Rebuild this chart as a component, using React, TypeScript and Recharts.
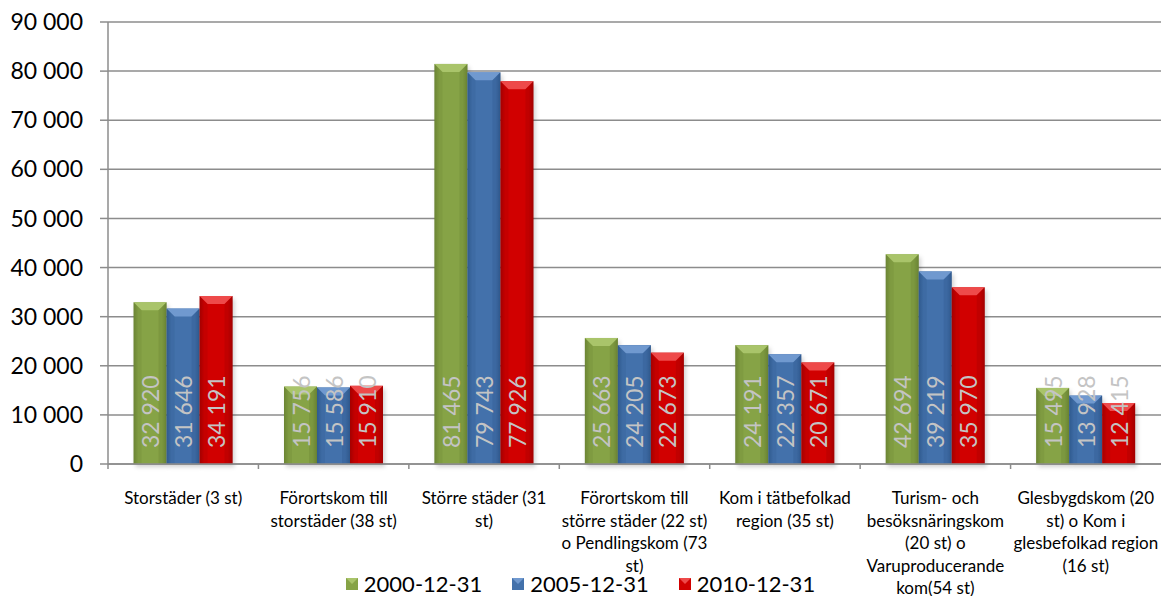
import React from 'react';
import { BarChart, Bar, XAxis, YAxis, CartesianGrid, Legend, LabelList } from 'recharts';

const categories = [
  'Storstäder (3 st)',
  'Förortskom till\nstorstäder (38 st)',
  'Större städer (31\nst)',
  'Förortskom till\nstörre städer (22 st)\no Pendlingskom (73\nst)',
  'Kom i tätbefolkad\nregion (35 st)',
  'Turism- och\nbesöksnäringskom\n(20 st) o\nVaruproducerande\nkom(54 st)',
  'Glesbygdskom (20\nst) o Kom i\nglesbefolkad region\n(16 st)',
];
const values2000 = [32920, 15756, 81465, 25663, 24191, 42694, 15495];
const values2005 = [31646, 15586, 79743, 24205, 22357, 39219, 13928];
const values2010 = [34191, 15910, 77926, 22673, 20671, 35970, 12415];
const seriesNames = ['2000-12-31', '2005-12-31', '2010-12-31'];
const yTicks = [0, 10000, 20000, 30000, 40000, 50000, 60000, 70000, 80000, 90000];

const data = categories.map((name, i) => ({
  name,
  s2000: values2000[i],
  s2005: values2005[i],
  s2010: values2010[i],
}));

const palette = [
  { key: 's2000', base: '#86a346', light: '#a9c46a', dark: '#6b8534' },
  { key: 's2005', base: '#4371ab', light: '#7099cf', dark: '#305a8e' },
  { key: 's2010', base: '#d10000', light: '#ee4a4a', dark: '#a40000' },
];

const FONT = 'Lato, "Open Sans", sans-serif';

const fmt = (n: number) => String(n).replace(/\B(?=(\d{3})+(?!\d))/g, ' ');

const makeShape = (idx: number) => (props: any) => {
  const { x, y, width, height } = props;
  const c = palette[idx];
  const b = Math.min(8, width / 2, height / 2);
  return (
    <g>
      <rect x={x + 2} y={y + 3} width={width} height={height} fill="rgba(0,0,0,0.18)" filter="url(#barShadow)" />
      <rect x={x} y={y} width={width} height={height} fill={`url(#grad-${c.key})`} />
      <polygon
        points={`${x},${y} ${x + width},${y} ${x + width - b},${y + b} ${x + b},${y + b}`}
        fill={c.light}
      />
      <polygon points={`${x},${y} ${x + b},${y + b} ${x + b},${y + height} ${x},${y + height}`} fill={c.dark} opacity={0.25} />
      <polygon
        points={`${x + width},${y} ${x + width - b},${y + b} ${x + width - b},${y + height} ${x + width},${y + height}`}
        fill={c.dark}
        opacity={0.35}
      />
    </g>
  );
};

const ValueLabel = (props: any) => {
  const { x, y, width, height, value } = props;
  const cx = x + width / 2;
  const by = y + height - 16;
  return (
    <text
      x={cx}
      y={by}
      transform={`rotate(-90 ${cx} ${by})`}
      textAnchor="start"
      dominantBaseline="central"
      fill="#c4c4c4"
      fontSize={23}
      fontFamily={FONT}
    >
      {fmt(value)}
    </text>
  );
};

const CategoryTick = (props: any) => {
  const { x, y, payload } = props;
  const half = payload.offset || 0;
  const lines = String(payload.value).split('\n');
  return (
    <g>
      <line x1={x - half} y1={y} x2={x - half} y2={y + 5} stroke="#8c8c8c" strokeWidth={1.5} />
      <text x={x} y={y + 40} textAnchor="middle" fontSize={17} fontFamily={FONT} fill="#000">
        {lines.map((l, i) => (
          <tspan key={i} x={x} dy={i === 0 ? 0 : 22.5}>
            {l}
          </tspan>
        ))}
      </text>
    </g>
  );
};

const LegendContent = () => (
  <div style={{ display: 'flex', justifyContent: 'center', fontFamily: FONT, fontSize: 22, lineHeight: '26px' }}>
    {seriesNames.map((n, i) => (
      <span key={n} style={{ display: 'flex', alignItems: 'center', marginRight: i < 2 ? 30 : 0 }}>
        <svg width={12} height={12} style={{ marginRight: 6 }}>
          <rect x={0} y={0} width={12} height={12} fill={palette[i].base} />
          <polygon points="0,0 12,0 6,6" fill={palette[i].light} />
        </svg>
        <span>{n}</span>
      </span>
    ))}
  </div>
);

export default function App() {
  return (
    <div style={{ position: 'absolute', left: 0, top: 0, width: 1161, height: 596, background: '#fff' }}>
      <BarChart
        width={1161}
        height={596}
        data={data}
        margin={{ top: 22, right: 0, left: 0, bottom: 0 }}
        barCategoryGap="17%"
        barGap={0}
      >
        <defs>
          {palette.map((c) => (
            <linearGradient key={c.key} id={`grad-${c.key}`} x1="0" y1="0" x2="1" y2="0">
              <stop offset="0%" stopColor={c.dark} />
              <stop offset="15%" stopColor={c.base} />
              <stop offset="85%" stopColor={c.base} />
              <stop offset="100%" stopColor={c.dark} />
            </linearGradient>
          ))}
          <filter id="barShadow" x="-20%" y="-20%" width="140%" height="140%">
            <feGaussianBlur stdDeviation="2" />
          </filter>
        </defs>
        <CartesianGrid vertical={false} stroke="#8c8c8c" strokeWidth={1.5} />
        <XAxis
          dataKey="name"
          interval={0}
          height={132}
          tickSize={0}
          tickMargin={0}
          axisLine={{ stroke: '#8c8c8c', strokeWidth: 1.5 }}
          tick={<CategoryTick />}
        />
        <YAxis
          width={108}
          domain={[0, 90000]}
          ticks={yTicks}
          interval={0}
          tickFormatter={fmt}
          tickSize={8}
          tickMargin={17}
          axisLine={{ stroke: '#8c8c8c', strokeWidth: 1.5 }}
          tickLine={{ stroke: '#8c8c8c', strokeWidth: 1.5 }}
          tick={{ fill: '#000', fontSize: 23, fontFamily: FONT }}
        />
        <Legend
          verticalAlign="middle"
          align="center"
          layout="horizontal"
          wrapperStyle={{ top: 571, left: 0, width: 1161 }}
          content={<LegendContent />}
        />
        {palette.map((c, i) => (
          <Bar key={c.key} dataKey={c.key} name={seriesNames[i]} fill={c.base} shape={makeShape(i)} isAnimationActive={false}>
            <LabelList dataKey={c.key} content={<ValueLabel />} />
          </Bar>
        ))}
      </BarChart>
    </div>
  );
}
